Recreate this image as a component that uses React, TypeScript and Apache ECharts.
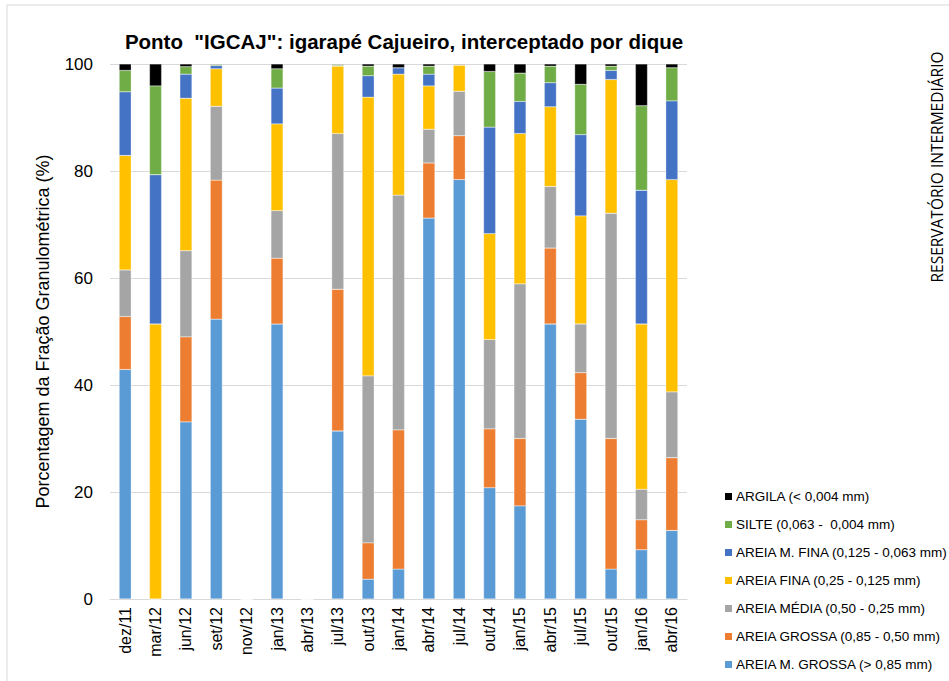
import React, { useEffect, useRef } from "react";
import * as echarts from "echarts";

const categories = ["dez/11", "mar/12", "jun/12", "set/12", "nov/12", "jan/13", "abr/13", "jul/13", "out/13", "jan/14", "abr/14", "jul/14", "out/14", "jan/15", "abr/15", "jul/15", "out/15", "jan/16", "abr/16"];

const areiaMGrossa = [42.9, 0, 33.1, 52.3, 0, 51.4, 0, 31.4, 3.7, 5.6, 71.2, 78.4, 20.8, 17.4, 51.4, 33.6, 5.6, 9.2, 12.8];
const areiaGrossa = [9.9, 0, 15.9, 26.0, 0, 12.3, 0, 26.5, 6.8, 26.0, 10.3, 8.2, 11.0, 12.6, 14.2, 8.7, 24.4, 5.6, 13.6];
const areiaMedia = [8.7, 0, 16.1, 13.8, 0, 8.9, 0, 29.1, 31.2, 43.9, 6.3, 8.3, 16.7, 28.9, 11.5, 9.1, 42.1, 5.7, 12.3];
const areiaFina = [21.4, 51.4, 28.5, 7.0, 0, 16.2, 0, 12.6, 52.1, 22.6, 8.1, 4.9, 19.8, 28.1, 14.9, 20.2, 25.0, 30.9, 39.7];
const areiaMFina = [11.9, 27.9, 4.5, 0.6, 0, 6.7, 0, 0.1, 4.0, 1.2, 2.2, 0, 19.9, 6.0, 4.5, 15.2, 1.7, 25.0, 14.7];
const silte = [4.0, 16.6, 1.4, 0.2, 0, 3.6, 0, 0.2, 1.8, 0, 1.5, 0.1, 10.4, 5.3, 3.1, 9.4, 0.8, 15.8, 6.2];
const argila = [1.2, 4.1, 0.5, 0.1, 0, 0.9, 0, 0.1, 0.4, 0.7, 0.4, 0.1, 1.4, 1.7, 0.4, 3.8, 0.4, 7.8, 0.7];

const seriesNames = [
  "AREIA M. GROSSA (> 0,85 mm)",
  "AREIA GROSSA (0,85 - 0,50 mm)",
  "AREIA MÉDIA (0,50 - 0,25 mm)",
  "AREIA FINA (0,25 - 0,125 mm)",
  "AREIA M. FINA (0,125 - 0,063 mm)",
  "SILTE (0,063 -  0,004 mm)",
  "ARGILA (< 0,004 mm)",
];
const seriesData = [areiaMGrossa, areiaGrossa, areiaMedia, areiaFina, areiaMFina, silte, argila];
const seriesColors = ["#5B9BD5", "#ED7D31", "#A5A5A5", "#FFC000", "#4472C4", "#70AD47", "#000000"];

const yTicks = [0, 20, 40, 60, 80, 100];

const FONT = "'Liberation Sans', Arial, sans-serif";

export default function App() {
  const ref = useRef<HTMLDivElement>(null);
  useEffect(() => {
    if (!ref.current) return;
    const chart = echarts.init(ref.current, null, { renderer: "svg" });
    chart.setOption({
      animation: false,
      backgroundColor: "#ffffff",
      title: {
        text: 'Ponto  "IGCAJ": igarapé Cajueiro, interceptado por dique',
        left: 399,
        top: 26,
        textAlign: "center",
        textStyle: { fontFamily: FONT, fontSize: 20.5, fontWeight: "bold", color: "#000" },
      },
      grid: { left: 110, right: 262, top: 64, bottom: 82, containLabel: false },
      legend: {
        orient: "vertical",
        left: 718,
        top: 484,
        itemWidth: 9,
        itemHeight: 9,
        itemGap: 13,
        icon: "rect",
        data: seriesNames.slice().reverse(),
        textStyle: { fontFamily: FONT, fontSize: 13.5, color: "#000", padding: [0, 0, 0, -2], lineHeight: 15 },
      },
      xAxis: {
        type: "category",
        data: categories,
        axisLine: { lineStyle: { color: "#d9d9d9" } },
        axisTick: { show: false },
        axisLabel: {
          rotate: 90,
          interval: 0,
          margin: 8,
          fontFamily: FONT,
          fontSize: 16,
          color: "#000",
        },
      },
      yAxis: {
        type: "value",
        min: yTicks[0],
        max: yTicks[yTicks.length - 1],
        interval: 20,
        name: "Porcentagem da Fração Granulométrica (%)",
        nameLocation: "middle",
        nameGap: 58,
        nameTextStyle: { fontFamily: FONT, fontSize: 18, color: "#000" },
        axisLine: { show: false },
        axisTick: { show: false },
        splitLine: { lineStyle: { color: "#d9d9d9" } },
        axisLabel: { fontFamily: FONT, fontSize: 17, color: "#000", margin: 17 },
      },
      series: seriesNames.map((name, i) => ({
        name,
        type: "bar",
        stack: "total",
        barWidth: 12,
        data: seriesData[i],
        itemStyle: { color: seriesColors[i], borderColor: "#ffffff", borderWidth: 0.3 },
      })),
      graphic: [
        {
          type: "rect",
          shape: { x: 7, y: 5, width: 1000, height: 1000 },
          style: { fill: "none", stroke: "#d9d9d9", lineWidth: 1 },
          silent: true,
        },
        {
          type: "text",
          x: 937,
          y: 167,
          rotation: Math.PI / 2,
          style: {
            text: "RESERVATÓRIO INTERMEDIÁRIO",
            fontFamily: "'Open Sans', 'Noto Sans', sans-serif",
            fontSize: 15.5,
            fill: "#000",
            align: "center",
            verticalAlign: "middle",
          },
        },
      ],
    });
    return () => chart.dispose();
  }, []);
  return <div ref={ref} style={{ width: 949, height: 681, position: "absolute", left: 0, top: 0 }} />;
}
